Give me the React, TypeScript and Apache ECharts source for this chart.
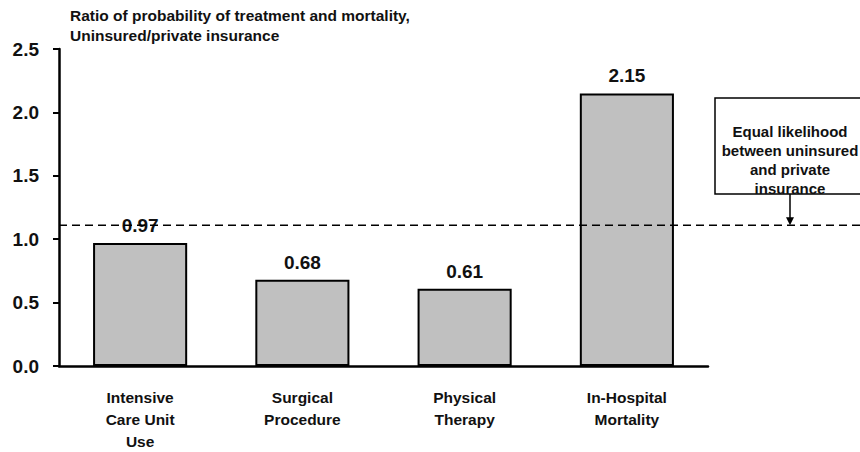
import { useEffect, useRef } from "react";
import * as echarts from "echarts";

const categories = [
  "Intensive\nCare Unit\nUse",
  "Surgical\nProcedure",
  "Physical\nTherapy",
  "In-Hospital\nMortality",
];
const ratios = [0.97, 0.68, 0.61, 2.15];
const yAxisMin = 0;
const yAxisMax = 2.5;
const yAxisStep = 0.5;
const equalLikelihoodLevel = 1.11;
const titleLines = [
  "Ratio of probability of treatment and mortality,",
  "Uninsured/private insurance",
];
const annotationLines = [
  "Equal likelihood",
  "between uninsured",
  "and private",
  "insurance",
];

const FONT = "'Liberation Sans', Arial, Helvetica, sans-serif";
const GRID_LEFT = 59;
const GRID_RIGHT = 152;
const GRID_TOP = 49;
const GRID_BOTTOM = 83;

export default function App() {
  const ref = useRef<HTMLDivElement>(null);

  useEffect(() => {
    if (!ref.current) return;
    const chart = echarts.init(ref.current, undefined, { renderer: "svg" });
    chart.setOption({
      animation: false,
      backgroundColor: "#ffffff",
      title: {
        text: titleLines.join("\n"),
        left: 70,
        top: 5,
        padding: 0,
        textStyle: {
          fontFamily: FONT,
          fontSize: 15.5,
          fontWeight: "bold",
          color: "#111",
          lineHeight: 20,
        },
      },
      grid: {
        left: GRID_LEFT,
        right: GRID_RIGHT,
        top: GRID_TOP,
        bottom: GRID_BOTTOM,
        containLabel: false,
      },
      xAxis: {
        type: "category",
        data: categories,
        axisLine: { lineStyle: { color: "#000", width: 2.5 } },
        axisTick: { show: false },
        axisLabel: {
          interval: 0,
          margin: 20,
          fontFamily: FONT,
          fontSize: 15.5,
          fontWeight: "bold",
          color: "#111",
          lineHeight: 22,
        },
      },
      yAxis: {
        type: "value",
        min: yAxisMin,
        max: yAxisMax,
        interval: yAxisStep,
        splitLine: { show: false },
        axisLine: { show: true, lineStyle: { color: "#000", width: 2.5 } },
        axisTick: { show: true, length: 6, lineStyle: { color: "#000", width: 2 } },
        axisLabel: {
          margin: 20,
          fontFamily: FONT,
          fontSize: 19,
          fontWeight: "bold",
          color: "#111",
          formatter: (v: number) => v.toFixed(1),
        },
      },
      series: [
        {
          type: "bar",
          data: ratios,
          barWidth: "58%",
          itemStyle: { color: "#c0c0c0", borderColor: "#000", borderWidth: 2 },
          label: {
            show: true,
            position: "top",
            distance: 8,
            fontFamily: FONT,
            fontSize: 19,
            fontWeight: "bold",
            color: "#111",
            formatter: (p: any) => Number(p.value).toFixed(2),
          },
        },
      ],
    });

    const lineY = chart.convertToPixel({ yAxisIndex: 0 }, equalLikelihoodLevel) as number;
    const boxX = 715;
    const boxY = 98;
    const boxW = 160;
    const boxH = 96;
    const arrowX = 790;
    chart.setOption({
      graphic: [
        {
          type: "line",
          z: 10,
          shape: { x1: GRID_LEFT, y1: lineY, x2: 860, y2: lineY },
          style: { stroke: "#000", lineWidth: 1.5, lineDash: [8, 5] },
        },
        {
          type: "rect",
          z: 10,
          shape: { x: boxX, y: boxY, width: boxW, height: boxH },
          style: { fill: "#fff", stroke: "#000", lineWidth: 1.5 },
        },
        {
          type: "text",
          z: 11,
          x: arrowX,
          y: boxY + boxH / 2 + 14,
          style: {
            text: annotationLines.join("\n"),
            fontFamily: FONT,
            fontSize: 15,
            fontWeight: "bold",
            fill: "#111",
            align: "center",
            verticalAlign: "middle",
            lineHeight: 19,
          },
        },
        {
          type: "line",
          z: 10,
          shape: { x1: arrowX, y1: boxY + boxH, x2: arrowX, y2: lineY - 7 },
          style: { stroke: "#000", lineWidth: 1.5 },
        },
        {
          type: "polygon",
          z: 10,
          shape: {
            points: [
              [arrowX - 4, lineY - 8],
              [arrowX + 4, lineY - 8],
              [arrowX, lineY],
            ],
          },
          style: { fill: "#000" },
        },
      ],
    });

    return () => chart.dispose();
  }, []);

  return (
    <div
      ref={ref}
      style={{ position: "absolute", left: 0, top: 0, width: 860, height: 452 }}
    />
  );
}
